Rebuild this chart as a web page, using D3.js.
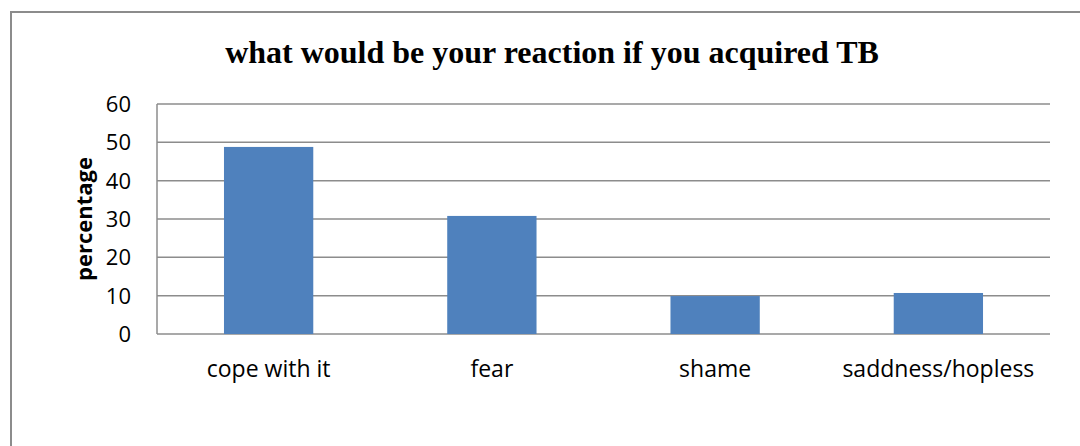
<!DOCTYPE html>
<html>
<head>
<meta charset="utf-8">
<script src="https://cdn.jsdelivr.net/npm/d3@7"></script>
<style>
  body { margin: 0; background: #fff; }
</style>
</head>
<body>
<div id="chart"></div>
<script>
const categories = ["cope with it", "fear", "shame", "saddness/hopless"];
const values = [48.8, 30.8, 9.9, 10.7];
const yTicks = [0, 10, 20, 30, 40, 50, 60];
const titleText = "what would be your reaction if you acquired TB";
const yTitle = "percentage";

const width = 1080, height = 446;
const margin = { top: 104, right: 30, bottom: 112, left: 157 };

const svg = d3.select("#chart").append("svg")
  .attr("width", width)
  .attr("height", height);

// outer chart frame
svg.append("rect")
  .attr("x", 11).attr("y", 12)
  .attr("width", width + 10).attr("height", height + 10)
  .attr("fill", "none")
  .attr("stroke", "#8c8c8c")
  .attr("stroke-width", 2);

const x = d3.scaleBand()
  .domain(categories)
  .range([margin.left, width - margin.right])
  .paddingInner(0.6)
  .paddingOuter(0.3);

const y = d3.scaleLinear()
  .domain([0, 60])
  .range([height - margin.bottom, margin.top]);

// gridlines
svg.append("g")
  .selectAll("line")
  .data(yTicks)
  .join("line")
  .attr("x1", margin.left)
  .attr("x2", width - margin.right)
  .attr("y1", d => y(d))
  .attr("y2", d => y(d))
  .attr("stroke", "#8c8c8c")
  .attr("stroke-width", 1.5);

// left axis line
svg.append("line")
  .attr("x1", margin.left).attr("x2", margin.left)
  .attr("y1", y(60)).attr("y2", y(0))
  .attr("stroke", "#8c8c8c")
  .attr("stroke-width", 1.5);

// bars
svg.append("g")
  .selectAll("rect")
  .data(values)
  .join("rect")
  .attr("x", (d, i) => x(categories[i]))
  .attr("width", x.bandwidth())
  .attr("y", d => y(d))
  .attr("height", d => y(0) - y(d))
  .attr("fill", "#4f81bd");

// y tick labels
svg.append("g")
  .selectAll("text")
  .data(yTicks)
  .join("text")
  .attr("x", 131)
  .attr("y", d => y(d))
  .attr("dy", "0.36em")
  .attr("text-anchor", "end")
  .style("font", "22px 'Open Sans', sans-serif")
  .attr("fill", "#000")
  .text(d => d);

// category labels
svg.append("g")
  .selectAll("text")
  .data(categories)
  .join("text")
  .attr("x", d => x(d) + x.bandwidth() / 2)
  .attr("y", 377)
  .attr("text-anchor", "middle")
  .style("font", "23px 'Open Sans', sans-serif")
  .attr("fill", "#000")
  .text(d => d);

// title
svg.append("text")
  .attr("x", 552)
  .attr("y", 63)
  .attr("text-anchor", "middle")
  .style("font", "bold 32px 'Liberation Serif', 'Times New Roman', serif")
  .attr("fill", "#000")
  .text(titleText);

// y axis title
svg.append("text")
  .attr("transform", "translate(92,219) rotate(-90)")
  .attr("text-anchor", "middle")
  .style("font", "bold 22px 'Open Sans', sans-serif")
  .attr("fill", "#000")
  .text(yTitle);
</script>
</body>
</html>
